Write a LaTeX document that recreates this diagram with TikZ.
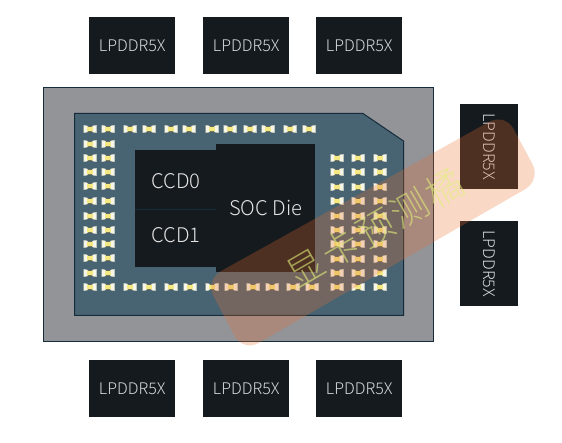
\documentclass[tikz,border=0pt]{standalone}
\usepackage{fontspec}
\setmainfont{Noto Sans CJK SC Light}
\newfontfamily\cjkwm{Noto Sans CJK SC Light}
\definecolor{pkggray}{RGB}{146,148,152}
\definecolor{pkgedge}{RGB}{22,44,58}
\definecolor{subst}{RGB}{72,99,114}
\definecolor{chipblk}{RGB}{21,26,31}
\definecolor{padcream}{RGB}{246,246,232}
\definecolor{padyel}{RGB}{243,232,130}
\definecolor{padshade}{RGB}{120,118,80}
\definecolor{wmfill}{RGB}{232,110,45}
\definecolor{wmtext}{RGB}{225,240,120}
\definecolor{lbl}{RGB}{215,220,222}
\tikzset{
  chip/.style={fill=chipblk,draw=none,inner sep=0pt,text=lbl,font=\fontsize{16}{18}\selectfont,anchor=north west},
  die/.style={fill=chipblk,draw=none,inner sep=0pt,text=white!90!black,font=\fontsize{20.2}{23}\selectfont,anchor=north west},
  pad/.pic={
    \fill[padshade] (-6.2,-3.2) -- (0,-2.4) -- (6.2,-3.2) -- (6.2,3.6) -- (0,2.8) -- (-6.2,3.6) -- cycle;
    \fill[padcream] (-6.5,-3.8) -- (-3,-3.4) -- (-1.8,-1.6) -- (1.8,-1.6) -- (3,-3.4) -- (6.5,-3.8) -- (6.5,3.8) -- (3,3.4) -- (1.8,1.6) -- (-1.8,1.6) -- (-3,3.4) -- (-6.5,3.8) -- cycle;
    \fill[padyel] (-3.2,-1.6) rectangle (3.2,1.6);
  }
}
\begin{document}
\begin{tikzpicture}[x=1pt,y=-1pt]
\useasboundingbox (0,0) rectangle (562,443);
% package
\filldraw[fill=pkggray,draw=pkgedge,line width=1pt] (43.5,88) rectangle (433,342);
\filldraw[fill=subst,draw=pkgedge,line width=1pt] (74.5,113.5) -- (363,113.5) -- (403.5,141) -- (403.5,315.5) -- (74.5,315.5) -- cycle;
% memory
\foreach \nm/\xx/\yy in {t1/89/17,t2/203/17,t3/316/17,b1/89/360,b2/203/360,b3/316/360}{
  \node[chip,minimum width=86pt,minimum height=57pt] (\nm) at (\xx,\yy) {LPDDR5X};
}
\node[chip,minimum width=58pt,minimum height=85pt] (r1) at (460,104) {};
\node[chip,minimum width=58pt,minimum height=85pt] (r2) at (460,221) {};
\node[text=lbl,font=\fontsize{16}{18}\selectfont,rotate=-90,inner sep=0pt] (r1t) at (r1.center) {LPDDR5X};
\node[text=lbl,font=\fontsize{16}{18}\selectfont,rotate=-90,inner sep=0pt] (r2t) at (r2.center) {LPDDR5X};
% dies
\node[die,minimum width=82pt,minimum height=62pt] (ccd0) at (135,150) {CCD0};
\node[die,minimum width=82pt,minimum height=64pt] (ccd1) at (135,203) {CCD1};
\draw[pkgedge,line width=.6pt] (135,209) -- (216,209);
\node[die,minimum width=99pt,minimum height=128pt] (soc) at (216,144) {SOC Die};
% pads
\foreach \py in {129,144,158,172,186,201,216,230,244,258,273,287}{
  \pic at (90,\py) {pad};
  \pic at (108,\py) {pad};
}
\foreach \px in {130,149,171,189,212,230,250,268,290,309}{
  \pic at (\px,129) {pad};
}
\foreach \px in {130,149,171,190,212,231,253,272,293,312}{
  \pic at (\px,287) {pad};
}
\foreach \py in {158,172,187,201,216,230,244,259,273,287}{
  \pic at (337,\py) {pad};
  \pic at (358,\py) {pad};
  \pic at (380,\py) {pad};
}
% watermark
\fill[wmfill,fill opacity=.27,rounded corners=18pt] (205,280) -- (505,113) -- (541,180) -- (243,352) -- cycle;
\node[text=wmtext,text opacity=.6,font=\cjkwm\fontsize{37}{40}\selectfont,rotate=30,inner sep=0pt] (wm) at (375,228) {显\hspace{3pt}卡\hspace{3pt}预\hspace{3pt}测\hspace{3pt}橘};
\end{tikzpicture}
\end{document}
